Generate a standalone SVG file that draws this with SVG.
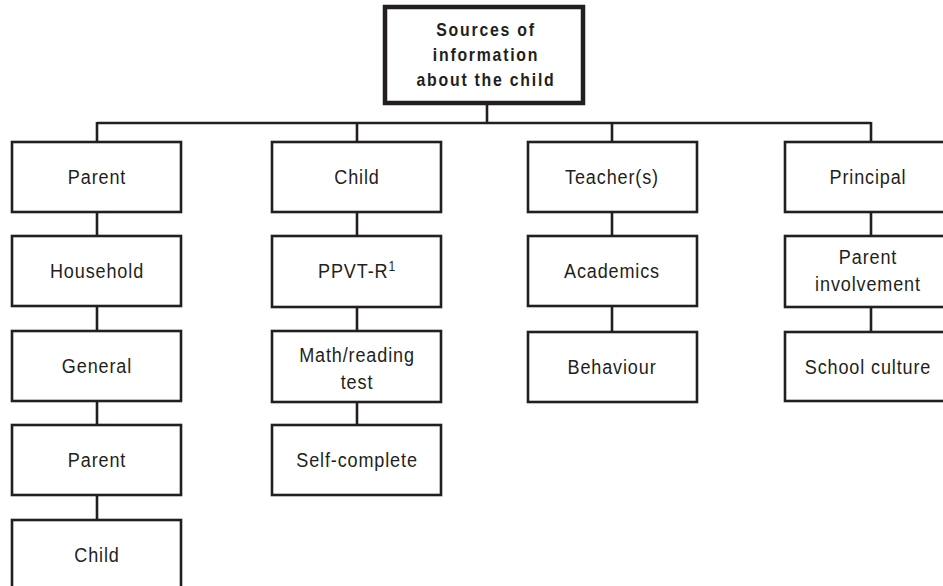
<svg xmlns="http://www.w3.org/2000/svg" width="943" height="586" viewBox="0 0 943 586">
<style>
.bx{fill:#fff;stroke:#231f20;stroke-width:2.6}
.top{fill:#fff;stroke:#231f20;stroke-width:4.5}
.t{font-family:"Liberation Sans",Arial,sans-serif;font-size:21px;letter-spacing:1px;fill:#231f20;text-anchor:middle}
.tb{font-family:"Liberation Sans",Arial,sans-serif;font-size:18px;font-weight:bold;letter-spacing:2px;fill:#231f20;text-anchor:middle}
.ln{stroke:#231f20;stroke-width:2.6;fill:none}
</style>
<rect width="943" height="586" fill="#fff"/>
<g id="connectors" class="ln">
<path d="M487 103V123M97 123H871M97 122V142M357 122V236M612 122V142M871 122V142"/>
<path d="M97 212V236M97 306V331M97 401V425M97 495V520"/>
<path d="M357 307V331M357 402V425"/>
<path d="M612 212V236M612 306V332"/>
<path d="M871 212V236M871 307V332"/>
</g>
<g id="root"><rect class="top" x="385" y="7" width="198" height="96"/>
<text class="tb" transform="translate(486 36) scale(0.88 1)">Sources of</text><text class="tb" transform="translate(486 61) scale(0.88 1)">information</text><text class="tb" transform="translate(486 86) scale(0.88 1)">about the child</text></g>
<g id="parent"><rect class="bx" x="12" y="142" width="169" height="70"/><text class="t" transform="translate(97 184) scale(0.86 1)">Parent</text></g>
<g id="household"><rect class="bx" x="12" y="236" width="169" height="70"/><text class="t" transform="translate(97 278) scale(0.86 1)">Household</text></g>
<g id="general"><rect class="bx" x="12" y="331" width="169" height="70"/><text class="t" transform="translate(97 373) scale(0.86 1)">General</text></g>
<g id="parent2"><rect class="bx" x="12" y="425" width="169" height="70"/><text class="t" transform="translate(97 467) scale(0.86 1)">Parent</text></g>
<g id="child2"><rect class="bx" x="12" y="520" width="169" height="80"/><text class="t" transform="translate(97 562) scale(0.86 1)">Child</text></g>
<g id="child"><rect class="bx" x="272" y="142" width="169" height="70"/><text class="t" transform="translate(357 184) scale(0.86 1)">Child</text></g>
<g id="ppvt"><rect class="bx" x="272" y="236" width="169" height="71"/><text class="t" transform="translate(357 278) scale(0.86 1)">PPVT-R<tspan font-size="14" dy="-7">1</tspan></text></g>
<g id="math"><rect class="bx" x="272" y="331" width="169" height="71"/><text class="t" transform="translate(357 362) scale(0.86 1)">Math/reading</text><text class="t" transform="translate(357 389) scale(0.86 1)">test</text></g>
<g id="selfcomplete"><rect class="bx" x="272" y="425" width="169" height="70"/><text class="t" transform="translate(357 467) scale(0.86 1)">Self-complete</text></g>
<g id="teacher"><rect class="bx" x="528" y="142" width="169" height="70"/><text class="t" transform="translate(612 184) scale(0.86 1)">Teacher(s)</text></g>
<g id="academics"><rect class="bx" x="528" y="236" width="169" height="70"/><text class="t" transform="translate(612 278) scale(0.86 1)">Academics</text></g>
<g id="behaviour"><rect class="bx" x="528" y="332" width="169" height="70"/><text class="t" transform="translate(612 374) scale(0.86 1)">Behaviour</text></g>
<g id="principal"><rect class="bx" x="785" y="142" width="170" height="70"/><text class="t" transform="translate(868 184) scale(0.86 1)">Principal</text></g>
<g id="involvement"><rect class="bx" x="785" y="236" width="170" height="71"/><text class="t" transform="translate(868 264) scale(0.86 1)">Parent</text><text class="t" transform="translate(868 291) scale(0.86 1)">involvement</text></g>
<g id="culture"><rect class="bx" x="785" y="332" width="170" height="69"/><text class="t" transform="translate(868 374) scale(0.86 1)">School culture</text></g>
</svg>
